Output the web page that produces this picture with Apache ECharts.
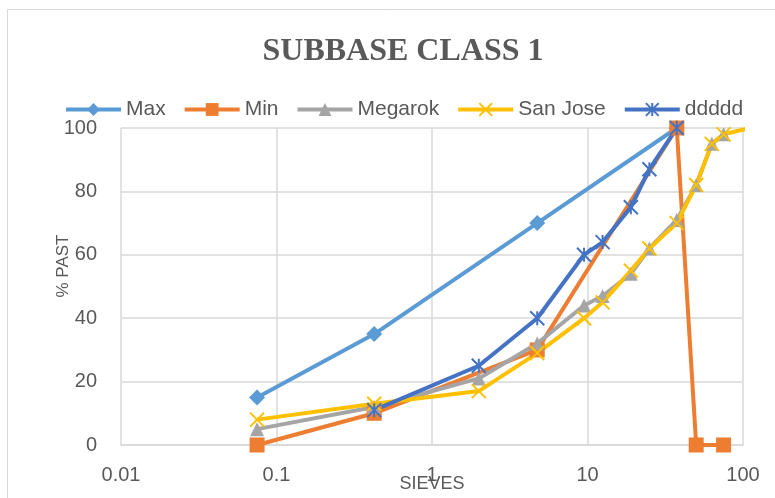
<!DOCTYPE html>
<html>
<head>
<meta charset="utf-8">
<script src="https://cdn.jsdelivr.net/npm/echarts@6/dist/echarts.min.js"></script>
<style>
html,body{margin:0;padding:0;background:#fff;}
#chart{width:775px;height:498px;}
</style>
</head>
<body>
<div id="chart"></div>
<script>
// ---- data (sieve size in mm, % passing) ----
const seriesNames = ['Max', 'Min', 'Megarok', 'San Jose', 'ddddd'];
const maxX = [0.075, 0.425, 4.75, 37.5];
const maxY = [15, 35, 70, 100];
const minX = [0.075, 0.425, 4.75, 37.5, 50, 75];
const minY = [0, 10, 30, 100, 0, 0];
const megX = [0.075, 0.425, 2, 4.75, 9.5, 12.5, 19, 25, 37.5, 50, 63, 75];
const megY = [5, 12, 21, 32, 44, 47, 54, 62, 71, 82, 95, 98];
const sjX = [0.075, 0.425, 2, 4.75, 9.5, 12.5, 19, 25, 37.5, 50, 63, 75, 110];
const sjY = [8, 13, 17, 29, 40, 45, 55, 62, 70, 82, 95, 98, 100];
const ddX = [0.425, 2, 4.75, 9.5, 12.5, 19, 25, 37.5];
const ddY = [11, 25, 40, 60, 64, 75, 87, 100];
const xTicks = [0.01, 0.1, 1, 10, 100];
const yTicks = [0, 20, 40, 60, 80, 100];

const pair = (xs, ys) => xs.map((x, i) => [x, ys[i]]);
const colors = ['#5B9BD5', '#ED7D31', '#A5A5A5', '#FFC000', '#4472C4'];
const xSym = 'path://M0,0L10,10M10,0L0,10';
const starSym = 'path://M0,0L10,10M10,0L0,10M5,0L5,10';
const txt = '#595959';
const font = 'Liberation Sans, Arial, sans-serif';

function mk(i, xs, ys, symbol, size, stroke) {
  const s = {
    name: seriesNames[i],
    type: 'line',
    data: pair(xs, ys),
    symbol: symbol,
    symbolSize: size,
    showAllSymbol: true,
    clip: true,
    lineStyle: { color: colors[i], width: 4 },
    itemStyle: { color: colors[i] },
    emphasis: { disabled: true },
    animation: false
  };
  if (stroke) {
    s.itemStyle = { color: colors[i], borderColor: colors[i], borderWidth: 2 };
  }
  return s;
}

const chart = echarts.init(document.getElementById('chart'), null, { renderer: 'canvas' });
chart.setOption({
  backgroundColor: '#fff',
  animation: false,
  color: colors,
  title: {
    text: 'SUBBASE CLASS 1',
    left: 398,
    textAlign: 'center',
    top: 31,
    textStyle: { fontFamily: 'Liberation Serif, serif', fontWeight: 'bold', fontSize: 32, color: txt }
  },
  legend: {
    left: 59,
    top: 94,
    itemWidth: 55,
    itemHeight: 16,
    itemGap: 17,
    lineStyle: { width: 4 },
    textStyle: { fontFamily: font, fontSize: 21, color: txt },
    data: seriesNames
  },
  grid: { left: 121, right: 32, top: 128, bottom: 53, containLabel: false, outerBoundsMode: 'none' },
  xAxis: {
    type: 'log',
    logBase: 10,
    min: xTicks[0],
    max: xTicks[xTicks.length - 1],
    name: 'SIEVES',
    nameLocation: 'middle',
    nameGap: 30,
    nameMoveOverlap: false,
    nameTextStyle: { fontFamily: font, fontSize: 18, color: txt },
    axisLine: { show: true, lineStyle: { color: '#d9d9d9', width: 1.5 } },
    axisTick: { show: false },
    axisLabel: {
      margin: 20,
      fontFamily: font, fontSize: 20, color: txt,
      formatter: v => { const t = xTicks.find(k => Math.abs(k - v) / k < 1e-6); return t === undefined ? '' : String(t); }
    },
    splitLine: { show: true, lineStyle: { color: '#d9d9d9', width: 1.5 } }
  },
  yAxis: {
    type: 'value',
    min: yTicks[0],
    max: yTicks[yTicks.length - 1],
    interval: 20,
    axisLine: { show: false },
    axisTick: { show: false },
    axisLabel: { margin: 24, fontFamily: font, fontSize: 20, color: txt },
    splitLine: { show: true, lineStyle: { color: '#d9d9d9', width: 1.5 } }
  },
  graphic: [
    {
      type: 'rect', z: -10, silent: true,
      shape: { x: 7.5, y: 9.5, width: 800, height: 600 },
      style: { fill: 'none', stroke: '#d9d9d9', lineWidth: 1 }
    },
    {
      type: 'text', silent: true,
      x: 63, y: 266, rotation: Math.PI / 2,
      style: { text: '% PAST', fontFamily: font, fontSize: 17, fill: txt, align: 'center', verticalAlign: 'middle' }
    }
  ],
  series: [
    mk(0, maxX, maxY, 'diamond', 16),
    mk(1, minX, minY, 'rect', 15),
    mk(2, megX, megY, 'triangle', 14),
    mk(3, sjX, sjY, xSym, 14, true),
    mk(4, ddX, ddY, starSym, 14, true)
  ]
});
</script>
</body>
</html>
